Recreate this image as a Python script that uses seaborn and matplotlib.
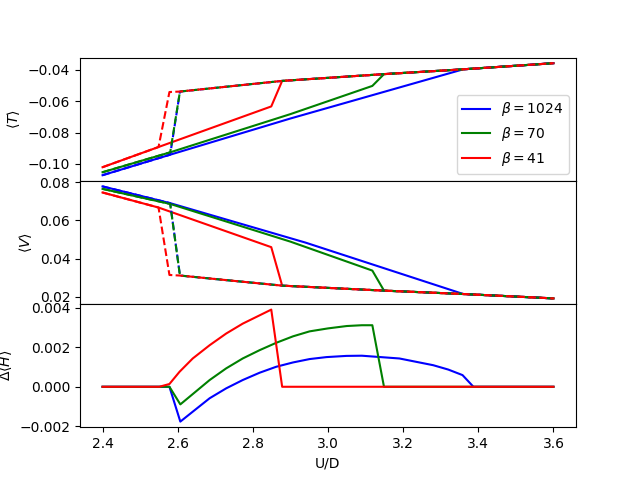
import numpy as np
import pandas as pd
import matplotlib
matplotlib.use("Agg")
import matplotlib.pyplot as plt
import seaborn as sns

labels = [r"$\beta = 1024$", r"$\beta = 70$", r"$\beta = 41$"]
colors = ["blue", "green", "red"]

# insulating (upper in <T>, lower in <V>) branch
U_ins = [2.606, 2.878, 3.147, 3.36, 3.6]
T_ins = [-0.0538, -0.0470, -0.0427, -0.0396, -0.0357]
V_ins = [0.0311, 0.0258, 0.0232, 0.0214, 0.0191]

# beta = 1024
U_T_b_solid = [2.4, 2.58, 2.9, 3.36, 3.6]
T_b_solid = [-0.1072, -0.0941, -0.0710, -0.0396, -0.0357]
U_V_b_solid = [2.4, 2.58, 2.9, 2.94, 3.36, 3.6]
V_b_solid = [0.0779, 0.0691, 0.0507, 0.0484, 0.0214, 0.0191]
U_b_dash_pre = [2.4, 2.58]
T_b_dash_pre = [-0.1072, -0.0941]
V_b_dash_pre = [0.0779, 0.0691]

# beta = 70
U_g_solid = [2.4, 2.58, 2.9, 3.118, 3.149, 3.36, 3.6]
T_g_solid = [-0.1053, -0.0926, -0.0682, -0.0502, -0.0427, -0.0396, -0.0357]
V_g_solid = [0.0766, 0.0687, 0.0489, 0.0337, 0.0232, 0.0214, 0.0191]
U_g_dash_pre = [2.4, 2.58]
T_g_dash_pre = [-0.1053, -0.0926]
V_g_dash_pre = [0.0766, 0.0687]

# beta = 41
U_r_solid = [2.4, 2.549, 2.849, 2.878, 3.147, 3.36, 3.6]
T_r_solid = [-0.1021, -0.0892, -0.0633, -0.0470, -0.0427, -0.0396, -0.0357]
V_r_solid = [0.0747, 0.0668, 0.0460, 0.0258, 0.0232, 0.0214, 0.0191]
U_r_dash_pre = [2.4, 2.549, 2.578]
T_r_dash_pre = [-0.1021, -0.0892, -0.0541]
V_r_dash_pre = [0.0747, 0.0668, 0.0314]

# Delta <H>
U_H_b = [2.4, 2.578, 2.607, 2.64, 2.685, 2.729, 2.773, 2.818, 2.862, 2.907,
         2.951, 2.996, 3.049, 3.09, 3.19, 3.28, 3.32, 3.358, 3.387, 3.6]
H_b = [0, 0, -0.00176, -0.00126, -0.00058, -0.00008, 0.00034, 0.00071, 0.00101,
       0.00123, 0.0014, 0.0015, 0.00156, 0.00157, 0.00143, 0.00109, 0.00087,
       0.00059, 0, 0]
U_H_g = [2.4, 2.578, 2.607, 2.64, 2.685, 2.729, 2.773, 2.818, 2.862, 2.907,
         2.951, 3.0, 3.05, 3.09, 3.118, 3.149, 3.6]
H_g = [0, 0, -0.00089, -0.00037, 0.00034, 0.00093, 0.00143, 0.00185, 0.00222,
       0.00255, 0.0028, 0.00295, 0.00307, 0.00311, 0.00311, 0, 0]
U_H_r = [2.4, 2.551, 2.578, 2.605, 2.64, 2.685, 2.729, 2.773, 2.818, 2.849,
         2.878, 3.6]
H_r = [0, 0, 0.00014, 0.00076, 0.00143, 0.0021, 0.00269, 0.00319, 0.00361,
       0.0039, 0, 0]

fig, axes = plt.subplots(3, 1, sharex=True, figsize=(6.4, 4.8), dpi=100)
fig.subplots_adjust(hspace=0)
axT, axV, axH = axes


def line(ax, x, y, color, label=None, ls="-"):
    df = pd.DataFrame({"x": x, "y": y})
    sns.lineplot(data=df, x="x", y="y", ax=ax, color=color, linestyle=ls,
                 sort=False, estimator=None, label=label, legend=False,
                 linewidth=1.5)


# <T>
line(axT, U_T_b_solid, T_b_solid, colors[0], labels[0])
line(axT, U_g_solid, T_g_solid, colors[1], labels[1])
line(axT, U_r_solid, T_r_solid, colors[2], labels[2])
line(axT, U_b_dash_pre + U_ins, T_b_dash_pre + T_ins, colors[0], ls="--")
line(axT, U_g_dash_pre + U_ins, T_g_dash_pre + T_ins, colors[1], ls="--")
line(axT, U_r_dash_pre + U_ins, T_r_dash_pre + T_ins, colors[2], ls="--")

# <V>
line(axV, U_V_b_solid, V_b_solid, colors[0])
line(axV, U_g_solid, V_g_solid, colors[1])
line(axV, U_r_solid, V_r_solid, colors[2])
line(axV, U_b_dash_pre + U_ins, V_b_dash_pre + V_ins, colors[0], ls="--")
line(axV, U_g_dash_pre + U_ins, V_g_dash_pre + V_ins, colors[1], ls="--")
line(axV, U_r_dash_pre + U_ins, V_r_dash_pre + V_ins, colors[2], ls="--")

# Delta <H>
line(axH, U_H_b, H_b, colors[0])
line(axH, U_H_g, H_g, colors[1])
line(axH, U_H_r, H_r, colors[2])

handles, labs = axT.get_legend_handles_labels()
axT.legend(handles[:3], labs[:3], loc="lower right")

axT.set_ylabel(r"$\langle T\rangle$")
axV.set_ylabel(r"$\langle V\rangle$")
axH.set_ylabel(r"$\Delta\langle H\rangle$")
axT.set_xlabel("")
axV.set_xlabel("")
axH.set_xlabel("U/D")

fig.savefig("out.png", dpi=100)
